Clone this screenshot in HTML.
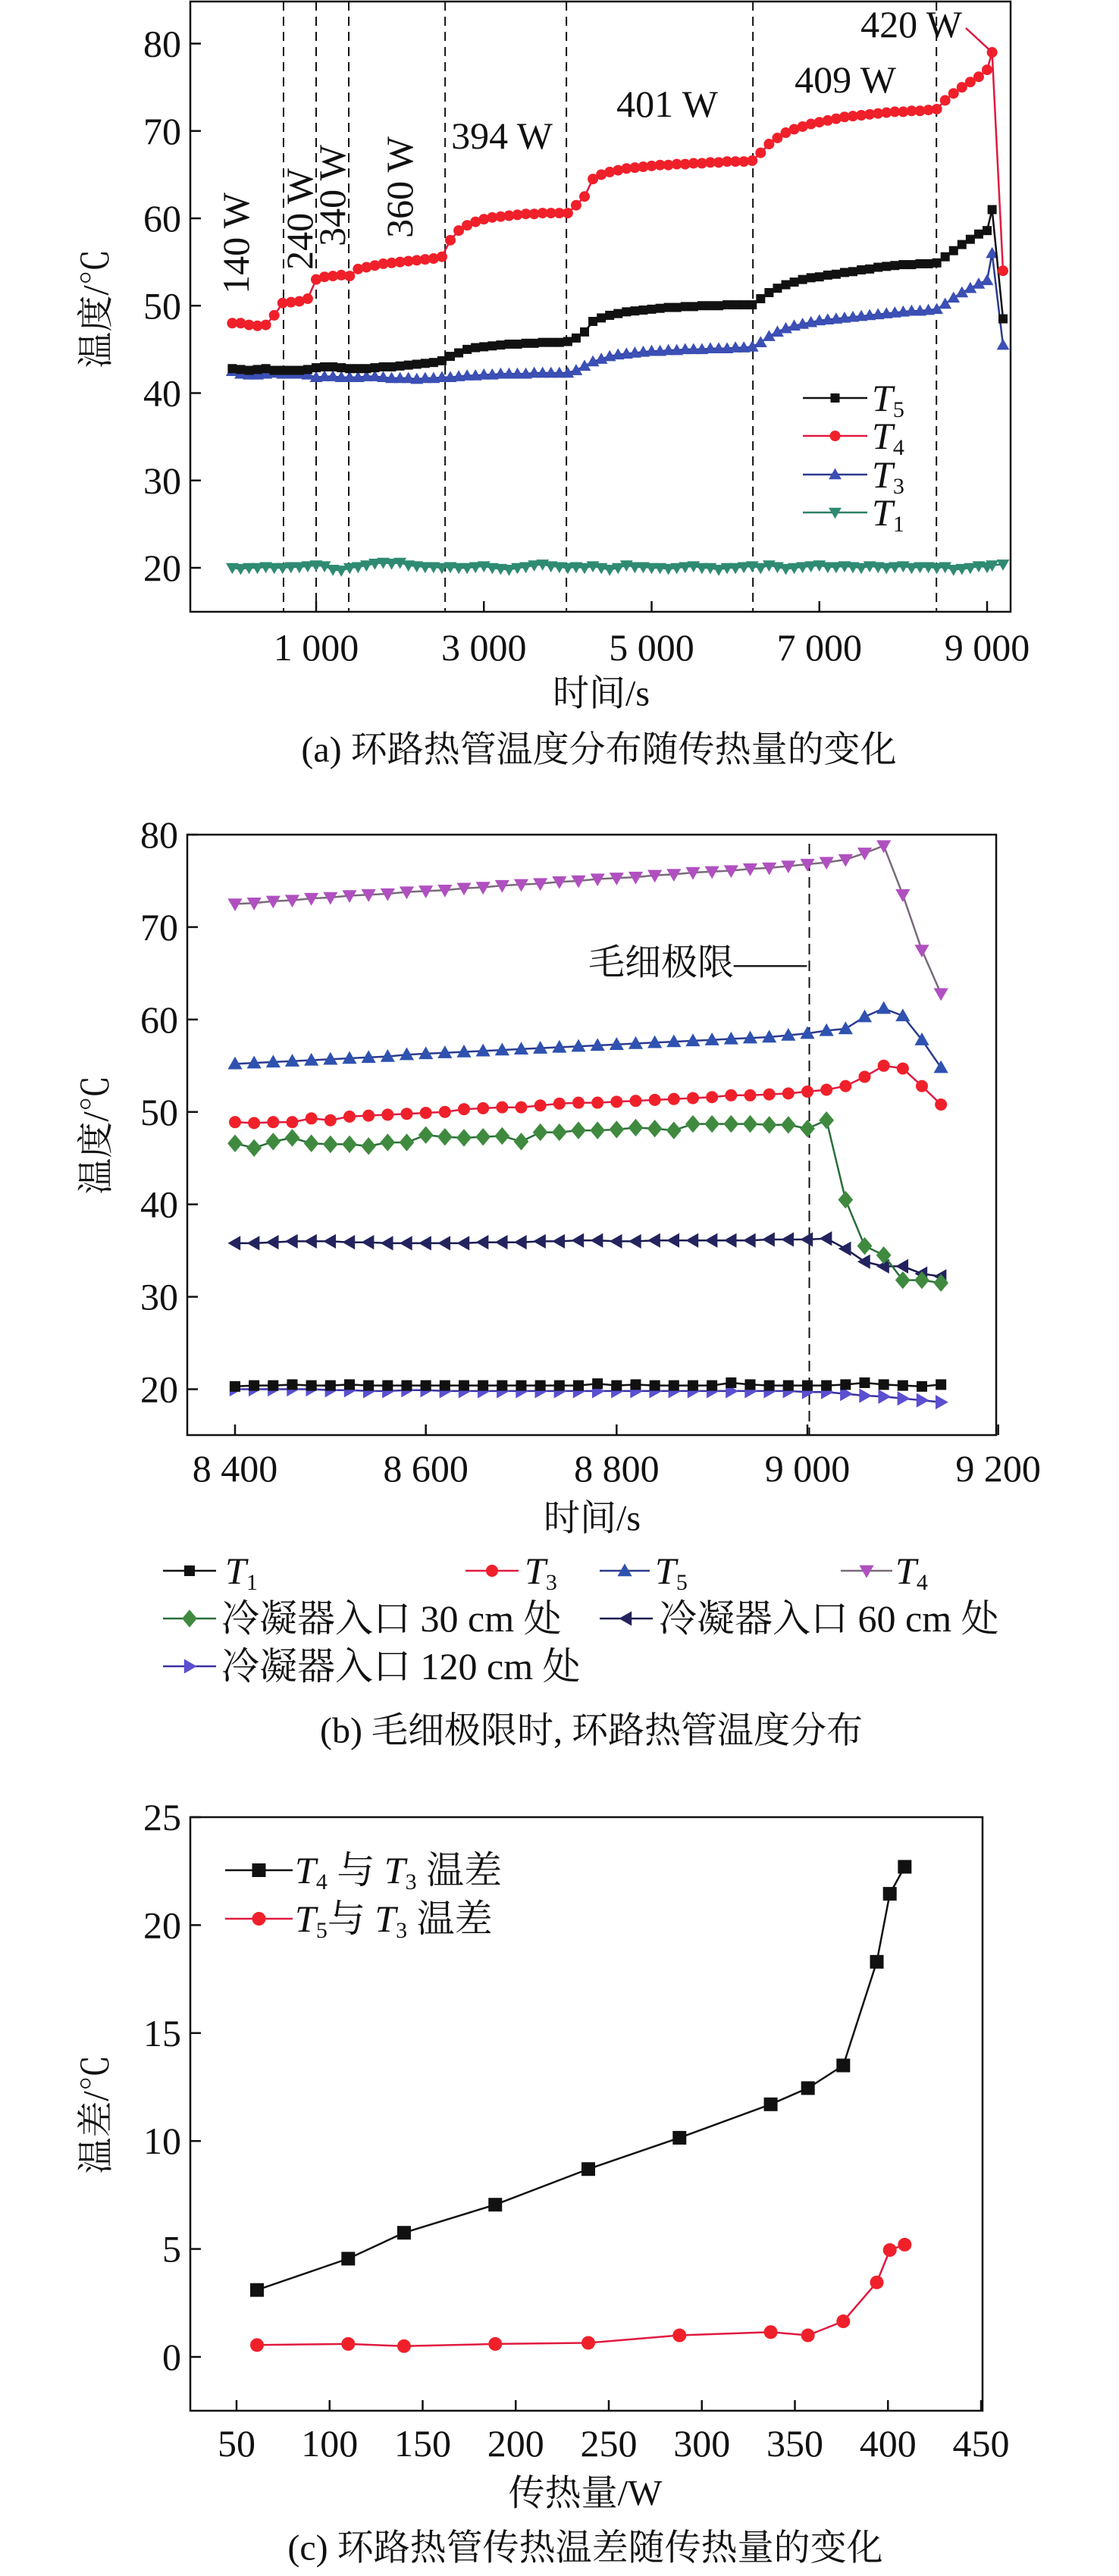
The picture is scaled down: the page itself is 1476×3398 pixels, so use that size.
<!DOCTYPE html>
<html><head><meta charset="utf-8"><style>
html,body{margin:0;padding:0;background:#fff}
svg text{font-family:"Liberation Serif","Noto Serif CJK SC",serif;fill:#111}
</style></head><body>
<svg id="fig" xmlns="http://www.w3.org/2000/svg" width="1476" height="3393" viewBox="0 0 1476 3393">
<rect width="1476" height="3393" fill="#fff"/>
<g id="ga"></g>
<g id="gb"></g>
<g id="gc"></g>
</svg>
<script>
// ---------- Chart A data ----------
const tA = [0,100,200,300,400,500,600,700,800,900,1000,1100,1200,1300,1400,1500,1600,1700,1800,1900,2000,2100,2200,2300,2400,2500,2600,2700,2800,2900,3000,3100,3200,3300,3400,3500,3600,3700,3800,3900,4000,4100,4200,4300,4400,4500,4600,4700,4800,4900,5000,5100,5200,5300,5400,5500,5600,5700,5800,5900,6000,6100,6200,6300,6400,6500,6600,6700,6800,6900,7000,7100,7200,7300,7400,7500,7600,7700,7800,7900,8000,8100,8200,8300,8400,8500,8600,8700,8800,8900,9000,9060,9190];
const T4A = [48,48,47.8,47.7,47.8,48.9,50.3,50.4,50.5,50.8,53,53.3,53.4,53.5,53.4,54.2,54.4,54.6,54.8,54.9,55,55.1,55.2,55.3,55.4,55.6,57.5,58.6,59.2,59.6,59.9,60.1,60.2,60.3,60.4,60.5,60.5,60.6,60.6,60.6,60.6,61.5,62.5,64.5,65,65.3,65.5,65.7,65.8,65.9,66,66.1,66.1,66.2,66.2,66.3,66.3,66.4,66.4,66.5,66.5,66.5,66.6,67.5,68.5,69.2,69.8,70.2,70.5,70.8,71,71.2,71.4,71.6,71.7,71.8,71.9,72,72.1,72.2,72.2,72.3,72.3,72.4,72.5,73.5,74.3,75,75.6,76.2,77,79,54];
const T5A = [42.8,42.7,42.6,42.7,42.8,42.6,42.6,42.6,42.6,42.7,42.9,43.0,43.0,42.9,42.8,42.8,42.8,42.9,43.0,43.0,43.1,43.2,43.3,43.4,43.5,43.7,44.2,44.6,45.0,45.2,45.3,45.4,45.5,45.6,45.6,45.7,45.7,45.8,45.8,45.8,45.9,46.3,47.0,48.2,48.6,48.9,49.1,49.3,49.4,49.5,49.6,49.7,49.8,49.8,49.9,49.9,50.0,50.0,50.0,50.1,50.1,50.1,50.1,50.8,51.5,52.0,52.4,52.7,53.0,53.2,53.3,53.5,53.6,53.8,53.9,54.1,54.2,54.4,54.5,54.6,54.7,54.7,54.8,54.8,54.9,55.6,56.3,57.0,57.6,58.2,58.6,61,48.5];
const T3A = [42.5,42.2,42.1,42.1,42.2,42.3,42.2,42.2,42.2,42.1,41.8,41.9,41.9,41.8,41.8,41.8,41.9,41.9,41.8,41.7,41.7,41.7,41.6,41.7,41.7,41.8,41.8,41.9,42.0,42.0,42.1,42.1,42.2,42.2,42.2,42.2,42.3,42.3,42.3,42.3,42.3,42.6,43.1,43.6,43.9,44.2,44.4,44.5,44.6,44.7,44.8,44.8,44.9,44.9,45.0,45.0,45.0,45.1,45.1,45.1,45.2,45.2,45.3,45.8,46.5,47.0,47.4,47.7,47.9,48.1,48.3,48.4,48.5,48.6,48.7,48.8,48.9,49.0,49.1,49.2,49.3,49.4,49.4,49.5,49.6,50.2,50.9,51.5,52.0,52.5,52.9,56,45.5];
const T1A = [20.0,19.9,20.0,20.0,20.1,20.0,20.0,20.1,20.1,20.2,20.3,20.2,19.8,19.7,20.0,20.1,20.3,20.5,20.6,20.5,20.6,20.3,20.2,20.1,20.1,20.0,20.1,20.0,20.0,20.1,20.2,20.0,19.9,19.8,20.0,20.1,20.3,20.4,20.2,20.1,20.0,20.1,20.0,20.2,20.0,19.8,20.0,20.3,20.1,20.1,20.0,20.0,19.9,20.0,20.1,20.2,20.0,20.0,19.8,20.0,20.0,20.1,20.2,20.0,20.3,20.1,19.9,20.0,20.1,20.2,20.3,20.1,20.1,20.2,20.1,20.0,20.2,20.1,20.0,20.1,20.2,20.0,20.1,20.1,20.0,20.1,19.8,19.9,20.0,20.2,20.1,20.3,20.4];
const xTicksA = [1000,3000,5000,7000,9000];
const xTickLabelsA = ["1 000","3 000","5 000","7 000","9 000"];
const yTicksA = [20,30,40,50,60,70,80];
const dashTimesA = [611,1000,1389,2538,3984,6208,8396];

// ---------- Chart B data ----------
const tB = [8400,8420,8440,8460,8480,8500,8520,8540,8560,8580,8600,8620,8640,8660,8680,8700,8720,8740,8760,8780,8800,8820,8840,8860,8880,8900,8920,8940,8960,8980,9000,9020,9040,9060,9080,9100,9120,9140];
const T4B = [72.5,72.6,72.8,72.9,73.1,73.2,73.4,73.5,73.6,73.8,73.9,74.0,74.2,74.3,74.5,74.6,74.7,74.9,75.0,75.2,75.3,75.4,75.6,75.7,75.9,76.0,76.1,76.3,76.4,76.6,76.8,77.0,77.3,78.0,78.8,73.5,67.5,62.8];
const T5B = [55.2,55.3,55.4,55.5,55.6,55.7,55.8,55.9,56.0,56.2,56.3,56.4,56.5,56.6,56.7,56.8,56.9,57.0,57.1,57.2,57.3,57.4,57.5,57.6,57.7,57.8,57.9,58.0,58.1,58.3,58.5,58.8,59.0,60.3,61.2,60.4,57.8,54.8];
const T3B = [48.9,48.8,48.9,48.9,49.3,49.1,49.5,49.6,49.7,49.8,49.9,50.0,50.3,50.4,50.5,50.5,50.7,50.9,51.0,51.0,51.1,51.2,51.3,51.4,51.5,51.6,51.8,51.8,51.9,52.0,52.2,52.4,52.8,53.8,55.0,54.7,52.8,50.8];
const C30B = [46.6,46.1,46.8,47.2,46.6,46.5,46.5,46.3,46.7,46.7,47.5,47.3,47.2,47.3,47.4,46.8,47.8,47.8,48.0,48.0,48.1,48.3,48.2,48.0,48.7,48.7,48.7,48.7,48.6,48.6,48.2,49.1,40.5,35.5,34.5,31.8,31.8,31.5];
const C60B = [35.8,35.8,35.9,36.0,36.0,36.0,35.9,35.9,35.8,35.8,35.8,35.8,35.8,35.9,35.9,35.9,36.0,36.0,36.1,36.1,36.0,36.0,36.1,36.1,36.1,36.1,36.1,36.1,36.2,36.2,36.2,36.3,35.2,33.8,33.3,33.3,32.5,32.2];
const T1B = [20.3,20.4,20.4,20.5,20.4,20.4,20.5,20.4,20.4,20.4,20.4,20.4,20.4,20.4,20.4,20.4,20.4,20.4,20.4,20.6,20.4,20.5,20.4,20.4,20.4,20.4,20.7,20.5,20.4,20.4,20.4,20.4,20.5,20.7,20.5,20.4,20.3,20.5];
const C120B = [20.0,20.0,20.0,20.0,20.0,19.9,19.9,19.8,19.8,19.9,19.9,19.8,19.8,19.8,19.8,19.8,19.8,19.8,19.8,19.8,19.8,19.8,19.8,19.8,19.8,19.8,19.8,19.8,19.8,19.8,19.7,19.7,19.5,19.3,19.2,19.0,18.8,18.6];
const xTicksB = [8400,8600,8800,9000,9200];
const xTickLabelsB = ["8 400","8 600","8 800","9 000","9 200"];
const yTicksB = [20,30,40,50,60,70,80];
const capLimitB = 9002;

// ---------- Chart C data ----------
const qC = [61,110,140,189,239,288,337,357,376,394,401,409];
const d43C = [3.1,4.55,5.75,7.05,8.7,10.15,11.7,12.45,13.5,18.3,21.45,22.7];
const d53C = [0.55,0.6,0.5,0.6,0.65,1.0,1.15,1.0,1.65,3.45,4.95,5.2];
const xTicksC = [50,100,150,200,250,300,350,400,450];
const yTicksC = [0,5,10,15,20,25];

const NS = "http://www.w3.org/2000/svg";
function mk(tag, attrs, parent){
  const e = document.createElementNS(NS, tag);
  for (const k in attrs) e.setAttribute(k, attrs[k]);
  parent.appendChild(e); return e;
}
function lin(d0,d1,r0,r1){ return v => r0 + (v-d0)/(d1-d0)*(r1-r0); }

function marker(g, type, x, y, fill, s){
  let e;
  if (type==='sq') e = mk('rect',{x:x-s/2,y:y-s/2,width:s,height:s,fill:fill},g);
  else if (type==='ci') e = mk('circle',{cx:x,cy:y,r:s/2,fill:fill},g);
  else if (type==='up') e = mk('polygon',{points:`${x},${y-s*0.6} ${x-s*0.6},${y+s*0.45} ${x+s*0.6},${y+s*0.45}`,fill:fill},g);
  else if (type==='dn') e = mk('polygon',{points:`${x},${y+s*0.6} ${x-s*0.6},${y-s*0.45} ${x+s*0.6},${y-s*0.45}`,fill:fill},g);
  else if (type==='di') e = mk('polygon',{points:`${x},${y-s*0.65} ${x+s*0.55},${y} ${x},${y+s*0.65} ${x-s*0.55},${y}`,fill:fill},g);
  else if (type==='lt') e = mk('polygon',{points:`${x-s*0.6},${y} ${x+s*0.45},${y-s*0.6} ${x+s*0.45},${y+s*0.6}`,fill:fill},g);
  else if (type==='rt') e = mk('polygon',{points:`${x+s*0.6},${y} ${x-s*0.45},${y-s*0.6} ${x-s*0.45},${y+s*0.6}`,fill:fill},g);
  
  
  return e;
}
function series(g, name, xs, ys, sx, sy, type, lineCol, fill, s){
  const sg = mk('g',{},g);
  
  
  const pts = xs.map((x,i)=>sx(x).toFixed(1)+','+sy(ys[i]).toFixed(1)).join(' ');
  const pl = mk('polyline',{points:pts,fill:'none',stroke:lineCol,'stroke-width':2.5},sg);
  
  
  xs.forEach((x,i)=>marker(sg,type,sx(x),sy(ys[i]),fill,s));
}
function txt(g, x, y, str, size, anchor, name){
  const t = mk('text',{x:x,y:y,'font-size':size,'text-anchor':anchor||'middle','dominant-baseline':'central'},g);
  t.textContent = str;
  
  
  return t;
}
function subTxt(g, x, y, main, sub, rest, size, name){
  const t = mk('text',{x:x,y:y,'font-size':size,'dominant-baseline':'central'},g);
  
  
  const a = mk('tspan',{'font-style':'italic'},t); a.textContent = main;
  const b = mk('tspan',{'font-size':size*0.6,dy:size*0.3},t); b.textContent = sub;
  if (rest){ const c = mk('tspan',{dy:-size*0.3},t); c.textContent = rest; }
  return t;
}
function frame(g,L,R,T,B){
  const f = mk('rect',{x:L,y:T,width:R-L,height:B-T,fill:'none',stroke:'#111','stroke-width':2.5},g);
  
  
}
function yTitle(g,x,y,str,name){
  const t = mk('text',{x:0,y:0,'font-size':48,'text-anchor':'middle','dominant-baseline':'central',transform:`translate(${x},${y}) rotate(-90)`},g);
  t.textContent = str;
  
  
}
function legLine(g,x1,x2,y,col,type,fill,s){
  const l = mk('line',{x1:x1,x2:x2,y1:y,y2:y,stroke:col,'stroke-width':2.5},g);
  
  
  marker(g,type,(x1+x2)/2,y,fill,s);
}

// ================= Chart A =================
(function(){
  const g = document.getElementById('ga');
  const L=251,R=1333,T=2,B=807;
  const sx = lin(1000,9000,417,1302), sy = lin(20,80,749,57.5);
  frame(g,L,R,T,B);
  const tk = mk('g',{},g);  
  xTicksA.forEach((v,i)=>{
    mk('line',{x1:sx(v),x2:sx(v),y1:B,y2:B-14,stroke:'#111','stroke-width':2.5},tk);
    txt(tk,sx(v),854,xTickLabelsA[i],50,'middle','x-tick-label');
  });
  yTicksA.forEach(v=>{
    mk('line',{x1:L,x2:L+14,y1:sy(v),y2:sy(v),stroke:'#111','stroke-width':2.5},tk);
    txt(tk,L-12,sy(v),String(v),50,'end','y-tick-label');
  });
  dashTimesA.forEach(v=>{
    const d = mk('line',{x1:sx(v),x2:sx(v),y1:T,y2:B,stroke:'#111','stroke-width':2,'stroke-dasharray':'12,8'},g);
    
    
  });
  series(g,'series-t1',tA,T1A,sx,sy,'dn','#2e7f6a','#2e8b72',14);
  series(g,'series-t3',tA,T3A,sx,sy,'up','#2b3a8f','#3b4fb5',14);
  series(g,'series-t5',tA,T5A,sx,sy,'sq','#111','#111',12);
  series(g,'series-t4',tA,T4A,sx,sy,'ci','#e01a40','#f0202a',14);
  // rotated power labels
  [[311,321,'140 W'],[395,289,'240 W'],[438,258,'340 W'],[527,247,'360 W']].forEach(a=>{
    const t = mk('text',{x:0,y:0,'font-size':50,'text-anchor':'middle','dominant-baseline':'central',transform:`translate(${a[0]},${a[1]}) rotate(-90)`},g);
    t.textContent = a[2];
    
    
  });
  txt(g,662,179,'394 W',50,'middle','power-label');
  txt(g,880,137,'401 W',50,'middle','power-label');
  txt(g,1115,105,'409 W',50,'middle','power-label');
  txt(g,1202,32,'420 W',50,'middle','power-label');
  const ln = mk('line',{x1:1274,y1:37,x2:sx(9060),y2:sy(79),stroke:'#e01a40','stroke-width':2.5},g);
  
  
  // legend
  const lg = mk('g',{},g);  
  [[525,'5','#111','sq','#111',12],[575,'4','#e01a40','ci','#f0202a',14],[626,'3','#2b3a8f','up','#3b4fb5',14],[676,'1','#2e7f6a','dn','#2e8b72',14]].forEach(r=>{
    legLine(lg,1059,1144,r[0],r[2],r[3],r[4],r[5]);
    subTxt(lg,1150,r[0],'T',r[1],'',50,'legend-entry');
  });
  txt(g,793,915,'时间/s',48,'middle','x-axis-title');
  yTitle(g,127,407,'温度/℃','y-axis-title');
  txt(g,790,989,'(a) 环路热管温度分布随传热量的变化',48,'middle','caption-a');
})();

// ================= Chart B =================
(function(){
  const g = document.getElementById('gb');
  const L=247,R=1314,T=1101,B=1893;
  const sx = lin(8400,9000,310,1065), sy = lin(20,80,1832.5,1101);
  frame(g,L,R,T,B);
  const tk = mk('g',{},g);  
  xTicksB.forEach((v,i)=>{
    mk('line',{x1:sx(v),x2:sx(v),y1:B,y2:B-14,stroke:'#111','stroke-width':2.5},tk);
    txt(tk,sx(v),1937,xTickLabelsB[i],50,'middle','x-tick-label');
  });
  yTicksB.forEach(v=>{
    mk('line',{x1:L,x2:L+14,y1:sy(v),y2:sy(v),stroke:'#111','stroke-width':2.5},tk);
    txt(tk,L-12,sy(v),String(v),50,'end','y-tick-label');
  });
  const d = mk('line',{x1:sx(capLimitB),x2:sx(capLimitB),y1:T+12,y2:B,stroke:'#111','stroke-width':2,'stroke-dasharray':'14,8'},g);
  
  
  txt(g,920,1270,'毛细极限——',48,'middle','capillary-limit-label');
  series(g,'series-c120',tB,C120B,sx,sy,'rt','#3a30a0','#5a4fd0',16);
  series(g,'series-t1',tB,T1B,sx,sy,'sq','#111','#111',14);
  series(g,'series-c60',tB,C60B,sx,sy,'lt','#1a1a50','#23235e',16);
  series(g,'series-c30',tB,C30B,sx,sy,'di','#2a6e3a','#3f8a3f',18);
  series(g,'series-t3',tB,T3B,sx,sy,'ci','#e01a40','#f0202a',16);
  series(g,'series-t5',tB,T5B,sx,sy,'up','#2b3a8f','#2f52b0',16);
  series(g,'series-t4',tB,T4B,sx,sy,'dn','#7a6a7a','#b050c0',16);
  txt(g,781,2003,'时间/s',48,'middle','x-axis-title');
  yTitle(g,127,1497,'温度/℃','y-axis-title');
  const lg = mk('g',{},g);  
  legLine(lg,215,285,2072,'#111','sq','#111',14); subTxt(lg,297,2072,'T','1','',50,'legend-entry');
  legLine(lg,614,684,2072,'#e01a40','ci','#f0202a',16); subTxt(lg,692,2072,'T','3','',50,'legend-entry');
  legLine(lg,791,857,2072,'#2b3a8f','up','#2f52b0',16); subTxt(lg,864,2072,'T','5','',50,'legend-entry');
  legLine(lg,1109,1177,2072,'#7a6a7a','dn','#b050c0',16); subTxt(lg,1181,2072,'T','4','',50,'legend-entry');
  legLine(lg,215,285,2135,'#2a6e3a','di','#3f8a3f',18); txt(lg,292,2135,'冷凝器入口 30 cm 处',50,'start','legend-entry');
  legLine(lg,791,861,2135,'#1a1a50','lt','#23235e',16); txt(lg,869,2135,'冷凝器入口 60 cm 处',50,'start','legend-entry');
  legLine(lg,215,285,2198,'#3a30a0','rt','#5a4fd0',16); txt(lg,292,2198,'冷凝器入口 120 cm 处',50,'start','legend-entry');
  txt(g,780,2283,'(b) 毛细极限时, 环路热管温度分布',48,'middle','caption-b');
})();

// ================= Chart C =================
(function(){
  const g = document.getElementById('gc');
  const L=251,R=1296,T=2397,B=3180;
  const sx = lin(50,450,312,1294), sy = lin(0,25,3109,2397);
  frame(g,L,R,T,B);
  const tk = mk('g',{},g);  
  xTicksC.forEach(v=>{
    mk('line',{x1:sx(v),x2:sx(v),y1:B,y2:B-14,stroke:'#111','stroke-width':2.5},tk);
    txt(tk,sx(v),3223,String(v),50,'middle','x-tick-label');
  });
  yTicksC.forEach(v=>{
    mk('line',{x1:L,x2:L+14,y1:sy(v),y2:sy(v),stroke:'#111','stroke-width':2.5},tk);
    txt(tk,L-12,sy(v),String(v),50,'end','y-tick-label');
  });
  series(g,'series-t4-t3',qC,d43C,sx,sy,'sq','#111','#111',18);
  series(g,'series-t5-t3',qC,d53C,sx,sy,'ci','#e01a40','#f0202a',18);
  const lg = mk('g',{},g);  
  legLine(lg,297,386,2467,'#111','sq','#111',18);
  const t1 = subTxt(lg,389,2467,'T','4','',50,'legend-entry');
  const a1 = mk('tspan',{dy:-15},t1); a1.textContent=' 与 ';
  const b1 = mk('tspan',{'font-style':'italic'},t1); b1.textContent='T';
  const c1 = mk('tspan',{'font-size':30,dy:15},t1); c1.textContent='3';
  const e1 = mk('tspan',{dy:-15},t1); e1.textContent=' 温差';
  legLine(lg,297,386,2531,'#e01a40','ci','#f0202a',18);
  const t2 = subTxt(lg,389,2531,'T','5','',50,'legend-entry');
  const a2 = mk('tspan',{dy:-15},t2); a2.textContent='与 ';
  const b2 = mk('tspan',{'font-style':'italic'},t2); b2.textContent='T';
  const c2 = mk('tspan',{'font-size':30,dy:15},t2); c2.textContent='3';
  const e2 = mk('tspan',{dy:-15},t2); e2.textContent=' 温差';
  txt(g,772,3289,'传热量/W',48,'middle','x-axis-title');
  yTitle(g,127,2789,'温差/℃','y-axis-title');
  txt(g,772,3361,'(c) 环路热管传热温差随传热量的变化',48,'middle','caption-c');
})();
</script>
</body></html>
